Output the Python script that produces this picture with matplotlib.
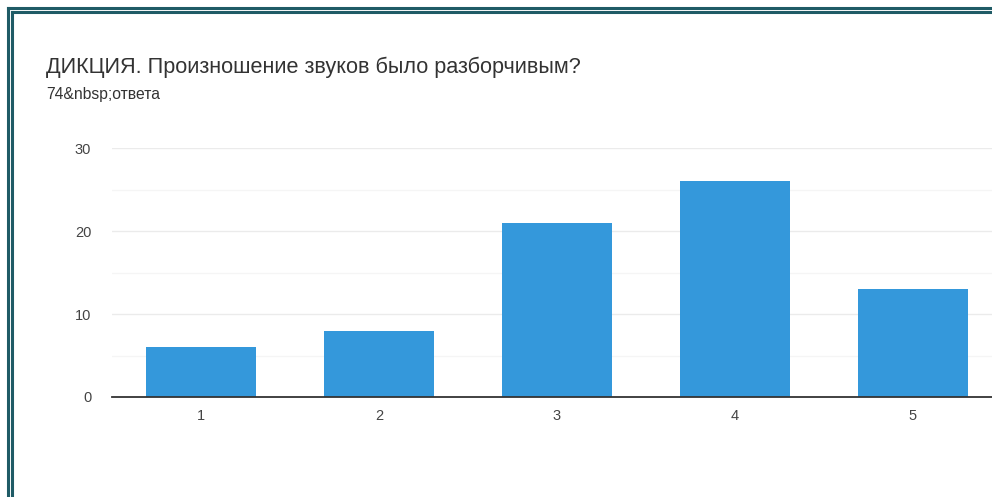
import matplotlib
matplotlib.use("Agg")
from matplotlib import pyplot as plt

# data
categories = ["1", "2", "3", "4", "5"]
counts = [6, 8, 21, 26, 13]
y_ticks = [0, 10, 20, 30]

title = "ДИКЦИЯ. Произношение звуков было разборчивым?"
subtitle = "74&nbsp;ответа"

plt.rcParams["font.family"] = ["Liberation Sans", "DejaVu Sans"]

W, H = 992, 497
fig = plt.figure(figsize=(W / 100, H / 100), dpi=100)
fig.patch.set_facecolor("white")

# double teal frame (only top and left visible, rest cut off)
frame = "#1f5b66"
for off, lw in [(7.5, 2.2), (11.5, 2.2)]:
    fig.add_artist(plt.Line2D([off / W, 1.02], [1 - off / H] * 2, transform=fig.transFigure,
                              color=frame, lw=lw))
    fig.add_artist(plt.Line2D([off / W] * 2, [1 - off / H, -0.02], transform=fig.transFigure,
                              color=frame, lw=lw))

fig.text(46 / W, 1 - 67 / H, title, fontsize=15.6, color="#333333", va="center", ha="left")
fig.text(46 / W, 1 - 95 / H, subtitle, fontsize=11.3, color="#333333", va="center", ha="left")

# axes: x from 112 to 992 px, y from 148 (30) to 397 (0)
ax = fig.add_axes([112 / W, 1 - 397 / H, (W - 112) / W, (397 - 148) / H])
x = list(range(1, len(categories) + 1))
ax.bar(x, counts, width=0.62, color="#3498db", zorder=3)

ax.set_xlim(0.5, 0.5 + (W - 112) / 178)
ax.set_ylim(0, 30)
ax.set_yticks(y_ticks)
ax.set_yticks([5, 15, 25], minor=True)
ax.set_xticks(x)
ax.set_xticklabels(categories)
ax.grid(axis="y", which="major", color="#ebebeb", lw=1, zorder=0)
ax.grid(axis="y", which="minor", color="#f5f5f5", lw=1, zorder=0)
ax.tick_params(axis="both", which="both", length=0, labelsize=10.5, labelcolor="#444444")
ax.tick_params(axis="y", pad=15)
ax.tick_params(axis="x", pad=9)
for s in ["top", "right", "left"]:
    ax.spines[s].set_visible(False)
ax.spines["bottom"].set_color("#333333")
ax.spines["bottom"].set_linewidth(1.3)
ax.spines["bottom"].set_zorder(4)

fig.savefig("out.png", dpi=100)
